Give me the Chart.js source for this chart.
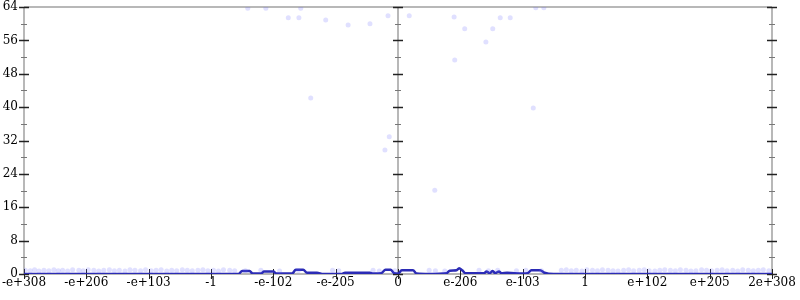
<!DOCTYPE html>
<html>
<head>
<meta charset="utf-8">
<script src="https://cdn.jsdelivr.net/npm/chart.js@4"></script>
<style>
  html, body { margin: 0; padding: 0; background: #fff; }
  #chart { display: block; }
</style>
</head>
<body>
<canvas id="chart" width="800" height="300"></canvas>
<script>
// x axis: 12 equal segments of the float bit range, labelled by value
const xTickLabels = ['-e+308', '-e+206', '-e+103', '-1', '-e-102', '-e-205', '0',
                     'e-206', 'e-103', '1', 'e+102', 'e+205', '2e+308'];
const yMax = 64;

// faint sample points (x in segment units, y = count)
const dotX = [
  -5.98, -5.9, -5.83, -5.76, -5.68, -5.6, -5.52, -5.45, -5.38, -5.3, -5.22, -5.12,
  -5.05, -4.97, -4.88, -4.8, -4.72, -4.63, -4.55, -4.47, -4.38, -4.3, -4.22, -4.13,
  -4.05, -3.96, -3.88, -3.8, -3.71, -3.63, -3.55, -3.46, -3.38, -3.3, -3.21, -3.13,
  -3.05, -2.96, -2.88, -2.8, -2.7, -2.62, -2.45, -2.2, -1.9, -1.6, -1.05, -0.95,
  -0.4, -0.3, -0.05, 0.5, 0.6, 0.75, 1.3, 1.45, 1.6, 1.9, 2.05, 2.3,
  2.62, 2.7, 2.78, 2.86, 2.95, 3.03, 3.12, 3.2, 3.28, 3.37, 3.45, 3.53,
  3.62, 3.7, 3.78, 3.87, 3.95, 4.03, 4.12, 4.2, 4.28, 4.37, 4.45, 4.53,
  4.62, 4.7, 4.78, 4.87, 4.95, 5.03, 5.12, 5.2, 5.28, 5.37, 5.45, 5.53,
  5.62, 5.7, 5.78, 5.86, 5.95,
  -2.41, -2.12, -1.56, -1.76, -1.59, -1.16, -0.8, -0.45, -0.16, -1.4, -0.14, -0.21,
  0.18, 0.9, 1.64, 1.8, 1.07, 1.52, 1.41, 0.91, 2.17, 2.21, 2.34, 0.59
];
const dotY = [
  0.9, 0.8, 1.0, 0.7, 0.9, 0.8, 1.0, 0.8, 0.9, 0.7, 1.0, 0.9,
  0.8, 1.0, 0.9, 0.7, 0.9, 1.0, 0.8, 0.9, 0.7, 1.0, 0.9, 0.8,
  1.0, 0.8, 0.9, 1.0, 0.7, 0.9, 0.8, 1.0, 0.9, 0.8, 0.9, 1.0,
  0.8, 0.9, 0.7, 1.0, 0.9, 0.8, 0.8, 0.9, 0.7, 0.8, 0.9, 0.8,
  0.9, 0.7, 0.8, 0.9, 0.8, 0.7, 0.9, 0.8, 0.9, 0.8, 0.9, 0.8,
  0.9, 1.0, 0.8, 0.9, 0.7, 1.0, 0.9, 0.8, 1.0, 0.9, 0.8, 0.7,
  0.9, 1.0, 0.8, 0.9, 1.0, 0.8, 0.7, 0.9, 1.0, 0.9, 0.8, 1.0,
  0.9, 0.7, 0.8, 1.0, 0.9, 0.8, 0.9, 1.0, 0.8, 0.9, 0.7, 1.0,
  0.9, 0.8, 0.9, 1.0, 0.8,
  63.7, 63.7, 63.7, 61.4, 61.4, 60.9, 59.7, 60.0, 61.9, 42.2, 32.9, 29.7,
  61.9, 61.6, 61.4, 61.4, 58.8, 58.8, 55.6, 51.3, 39.8, 63.8, 63.8, 20.1
];

// running count line
const lineX = [-6, -2.56, -2.5, -2.38, -2.33, -2.2, -2.15, -2.0, -1.95, -1.7, -1.64, -1.52,
  -1.46, -1.3, -1.2, -0.9, -0.85, -0.45, -0.4, -0.27, -0.2, -0.12, -0.06, 0, 0.06, 0.24,
  0.3, 0.5, 0.78, 0.83, 0.94, 0.98, 1.03, 1.08, 1.38, 1.42, 1.47, 1.52, 1.56, 1.62, 1.66,
  1.75, 2.0, 2.08, 2.14, 2.28, 2.35, 2.5, 6];
const lineY = [0, 0, 0.7, 0.7, 0.1, 0.1, 0.6, 0.6, 0.1, 0.1, 1.0, 1.0,
  0.3, 0.3, 0, 0, 0.3, 0.3, 0.1, 0.2, 1.0, 1.0, 0.2, 0.1, 0.9, 0.9,
  0.1, 0, 0.2, 0.8, 0.9, 1.4, 0.9, 0.2, 0.2, 0.6, 0.2, 0.7, 0.2, 0.6, 0.2,
  0.3, 0.1, 0.2, 0.9, 0.9, 0.3, 0, 0];

const dots = dotX.map((x, i) => ({ x: x, y: dotY[i] }));
const line = lineX.map((x, i) => ({ x: x, y: lineY[i] }));

const labelFont = { family: 'DejaVu Serif', size: 12 };

// axis frame: gray lines at left, centre, right and top, with ticks crossing them
const axesPlugin = {
  id: 'axes',
  beforeDatasetsDraw(chart) {
    const ctx = chart.ctx;
    const xs = chart.scales.x, ys = chart.scales.y;
    const a = chart.chartArea;
    ctx.save();
    ctx.strokeStyle = '#b8b8b8';
    ctx.lineWidth = 2;
    ctx.beginPath();
    ctx.moveTo(a.left, a.top); ctx.lineTo(a.right, a.top);
    ctx.moveTo(a.left, a.bottom); ctx.lineTo(a.right, a.bottom);
    [-6, 0, 6].forEach(v => {
      const px = Math.round(xs.getPixelForValue(v));
      ctx.moveTo(px, a.top); ctx.lineTo(px, a.bottom);
    });
    ctx.stroke();

    ctx.lineWidth = 1;
    for (let v = -6; v <= 6; v++) {
      const px = Math.round(xs.getPixelForValue(v)) + 0.5;
      ctx.strokeStyle = '#222';
      ctx.beginPath();
      ctx.moveTo(px, a.bottom - 5); ctx.lineTo(px, a.bottom + 5);
      ctx.stroke();
    }
    [-6, 0, 6].forEach(v => {
      const px = Math.round(xs.getPixelForValue(v));
      for (let y = 0; y <= yMax; y += 4) {
        const py = Math.round(ys.getPixelForValue(y)) + 0.5;
        const major = y % 8 === 0;
        const len = major ? 5 : 3;
        ctx.strokeStyle = major ? '#222' : '#777';
        ctx.lineWidth = major ? 1.5 : 1;
        ctx.beginPath();
        ctx.moveTo(px - len, py); ctx.lineTo(px + len, py);
        ctx.stroke();
      }
    });
    ctx.restore();
  }
};

new Chart(document.getElementById('chart'), {
  type: 'scatter',
  data: {
    datasets: [{
      label: 'samples',
      data: dots,
      pointRadius: 2.5,
      pointBorderWidth: 0,
      backgroundColor: 'rgba(100,100,255,0.2)',
      borderColor: 'rgba(100,100,255,0)'
    }, {
      label: 'count',
      data: line,
      showLine: true,
      pointRadius: 0,
      borderColor: '#2b2bb5',
      borderWidth: 2.5,
      cubicInterpolationMode: 'monotone',
      fill: false
    }]
  },
  options: {
    responsive: false,
    animation: false,
    layout: { padding: { top: 7, right: 28, left: 0, bottom: 0 } },
    plugins: { legend: { display: false }, tooltip: { enabled: false } },
    scales: {
      x: {
        type: 'linear',
        min: -6, max: 6,
        grid: { display: false, drawTicks: false },
        border: { display: false },
        ticks: {
          stepSize: 1,
          autoSkip: false,
          maxRotation: 0,
          padding: 2,
          color: '#000',
          font: labelFont,
          callback: v => xTickLabels[Math.round(v) + 6]
        },
        afterFit: s => { s.height = 26; s.paddingLeft = 0; s.paddingRight = 0; }
      },
      y: {
        min: 0, max: yMax,
        grid: { display: false, drawTicks: false },
        border: { display: false },
        ticks: { stepSize: 8, padding: 6, color: '#000', font: labelFont },
        afterFit: s => { s.width = 24; s.paddingTop = 0; s.paddingBottom = 0; }
      }
    }
  },
  plugins: [axesPlugin]
});
</script>
</body>
</html>
